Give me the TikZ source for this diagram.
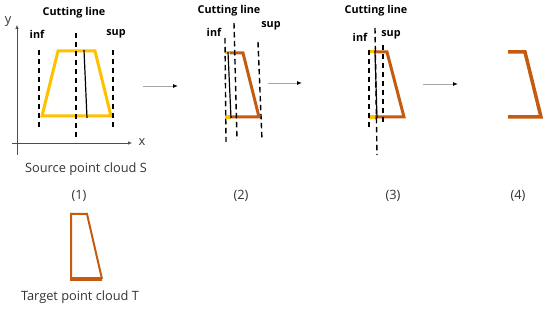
\documentclass[tikz,border=0pt]{standalone}
\usepackage{fontspec}
\setmainfont{Open Sans}
\usetikzlibrary{arrows.meta}
\definecolor{ylw}{HTML}{FFC000}
\definecolor{org}{HTML}{C55A11}
\definecolor{arrgray}{HTML}{A6A6A6}
\tikzset{
  lbl/.style={font=\fontsize{10.8}{11}\selectfont\bfseries, inner sep=0pt},
  captext/.style={font=\fontsize{12.8}{13}\selectfont, inner sep=0pt, text=black!80},
  cutdash/.style={line width=1.4pt, dash pattern=on 5.5pt off 3.5pt},
  cutsolid/.style={line width=1.2pt},
  yshape/.style={draw=ylw, line width=3pt, line join=miter},
  oshape/.style={draw=org, line width=3pt, line join=miter},
  flow/.style={draw=arrgray, line width=0.9pt, -{Latex[length=5pt,width=4pt,black]}},
  axis/.style={draw=black!70, line width=0.6pt, -{Latex[length=4pt,width=3.5pt]}}
}
\begin{document}
\begin{tikzpicture}[x=1pt,y=-1pt]
\useasboundingbox (0,0) rectangle (550,312);
% ---------- panel 1 ----------
\coordinate (ybot) at (17,155);
\coordinate (ytop) at (17,25);
\coordinate (xbeg) at (12,143);
\coordinate (xend) at (132,143);
\draw[axis] (ybot) -- (ytop);
\draw[axis] (xbeg) -- (xend);
\node[captext] (ylab) at (8,22) {y};
\node[captext] (xlab) at (142,142) {x};
\node[lbl] (cl1) at (74,13) {Cutting line};
\node[lbl] (inf1) at (37,34) {inf};
\node[lbl] (sup1) at (116,34) {sup};
\draw[yshape] (58,51) -- (95,51) -- (111,116) -- (42,116) -- cycle;
\draw[cutdash] (39,50) -- (39,130);
\draw[cutdash] (76,33) -- (76,138);
\draw[cutdash] (113,50) -- (113,130);
\draw[cutsolid] (84,50) -- (87,118);
\node[captext] (src) at (86,169) {Source point cloud S};
\node[captext] (n1) at (79,196) {(1)};
% ---------- panel 2 ----------
\node[lbl] (cl2) at (229,11) {Cutting line};
\node[lbl] (inf2) at (214,32) {inf};
\node[lbl] (sup2) at (271,26) {sup};
\draw[ylw, line width=3pt] (225,53) -- (231,53);
\draw[ylw, line width=3.5pt] (225,117) -- (231,117);
\draw[oshape] (230,53) -- (243,53) -- (259,117) -- (230,117);
\draw[cutdash] (225,38) -- (226,142);
\draw[cutdash] (234,23) -- (237,140);
\draw[cutdash] (258,42) -- (262,140);
\draw[cutsolid] (228,52) -- (231,118);
\node[captext] (n2) at (241,196) {(2)};
% ---------- panel 3 ----------
\node[lbl] (cl3) at (376,11) {Cutting line};
\node[lbl] (inf3) at (360,37) {inf};
\node[lbl] (sup3) at (391,35) {sup};
\draw[ylw, line width=3pt] (369,52) -- (376,52);
\draw[ylw, line width=3.5pt] (369,117) -- (376,117);
\draw[oshape] (375,52) -- (387,52) -- (404,117) -- (375,117);
\draw[cutdash] (369,50) -- (369,127);
\draw[cutdash] (375,28) -- (377,155);
\draw[cutdash] (383,45) -- (383,125);
\draw[cutsolid] (375,51) -- (377,118);
\node[captext] (n3) at (393,196) {(3)};
% ---------- panel 4 ----------
\draw[oshape, line width=3.5pt] (508,52) -- (525,52) -- (541,117) -- (508,117);
\node[captext] (n4) at (518,196) {(4)};
% ---------- flow arrows ----------
\coordinate (a1s) at (143,86); \coordinate (a1e) at (178,86);
\coordinate (a2s) at (268,83); \coordinate (a2e) at (302,83);
\coordinate (a3s) at (423,84); \coordinate (a3e) at (458,84);
\draw[flow] (a1s) -- (a1e);
\draw[flow] (a2s) -- (a2e);
\draw[flow] (a3s) -- (a3e);
% ---------- target ----------
\draw[org, line width=2pt] (71,279) -- (71,214) -- (87,214) -- (102,279);
\draw[org, line width=4pt] (70,279) -- (102,279);
\node[captext] (tgt) at (80,297) {Target point cloud T};
\end{tikzpicture}
\end{document}
